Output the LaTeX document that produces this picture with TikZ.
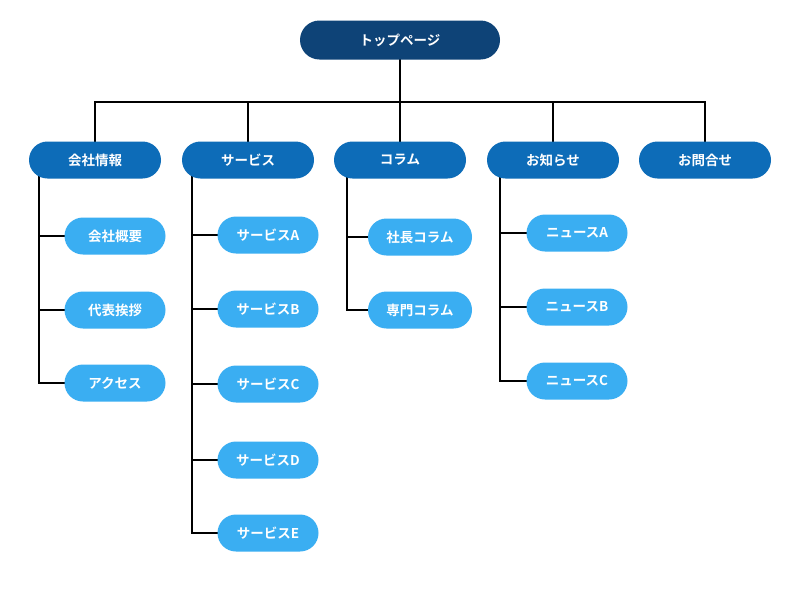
\documentclass[tikz,border=0pt]{standalone}
\usepackage{fontspec}
\newfontfamily\cjk{Noto Sans CJK JP Bold}
\usetikzlibrary{shapes.misc}
\definecolor{topc}{HTML}{0E4377}
\definecolor{midc}{HTML}{0D6CB8}
\definecolor{leafc}{HTML}{3AAEF2}
\tikzset{
 base/.style={rounded rectangle,text=white,font=\cjk\fontsize{13.5}{14}\selectfont,inner sep=0pt},
 topbox/.style={base,fill=topc,minimum width=200pt,minimum height=39pt},
 midbox/.style={base,fill=midc,minimum width=132pt,minimum height=37pt},
 leafbox/.style={base,fill=leafc,minimum width=101pt,minimum height=37pt},
 ln/.style={line width=2pt,black}
}
\begin{document}
\begin{tikzpicture}[x=1pt,y=-1pt]
\fill[white] (0,0) rectangle (800,600);
\useasboundingbox (0,0) rectangle (800,600);
% connectors first
\coordinate (h) at (400,102);
\draw[ln] (400,40) -- (h);
\draw[ln] (95,160) |- (h) -| (705,160);
\foreach \x in {248,400,553} \draw[ln] (\x,102) -- (\x,160);
\draw[ln] (39,160) -- (39,383) -- (115,383);
\foreach \y in {236,310} \draw[ln] (39,\y) -- (115,\y);
\draw[ln] (192,160) -- (192,533) -- (268,533);
\foreach \y in {235,309,384,460} \draw[ln] (192,\y) -- (268,\y);
\draw[ln] (347,160) -- (347,310) -- (420,310);
\draw[ln] (347,237) -- (420,237);
\draw[ln] (500,160) -- (500,381) -- (577,381);
\foreach \y in {233,307} \draw[ln] (500,\y) -- (577,\y);
% nodes
\node[topbox] (top) at (400,40) {トップページ};
\node[midbox] (m1) at (95,160) {会社情報};
\node[midbox] (m2) at (248,160) {サービス};
\node[midbox] (m3) at (400,160) {コラム};
\node[midbox] (m4) at (553,160) {お知らせ};
\node[midbox] (m5) at (705,160) {お問合せ};
\node[leafbox] (a1) at (115,236) {会社概要};
\node[leafbox] (a2) at (115,310) {代表挨拶};
\node[leafbox] (a3) at (115,383) {アクセス};
\node[leafbox] (b1) at (268,235) {サービスA};
\node[leafbox] (b2) at (268,309) {サービスB};
\node[leafbox] (b3) at (268,384) {サービスC};
\node[leafbox] (b4) at (268,460) {サービスD};
\node[leafbox] (b5) at (268,533) {サービスE};
\node[leafbox,minimum width=104pt] (c1) at (420,237) {社長コラム};
\node[leafbox,minimum width=104pt] (c2) at (420,310) {専門コラム};
\node[leafbox] (d1) at (577,233) {ニュースA};
\node[leafbox] (d2) at (577,307) {ニュースB};
\node[leafbox] (d3) at (577,381) {ニュースC};
\end{tikzpicture}
\end{document}
